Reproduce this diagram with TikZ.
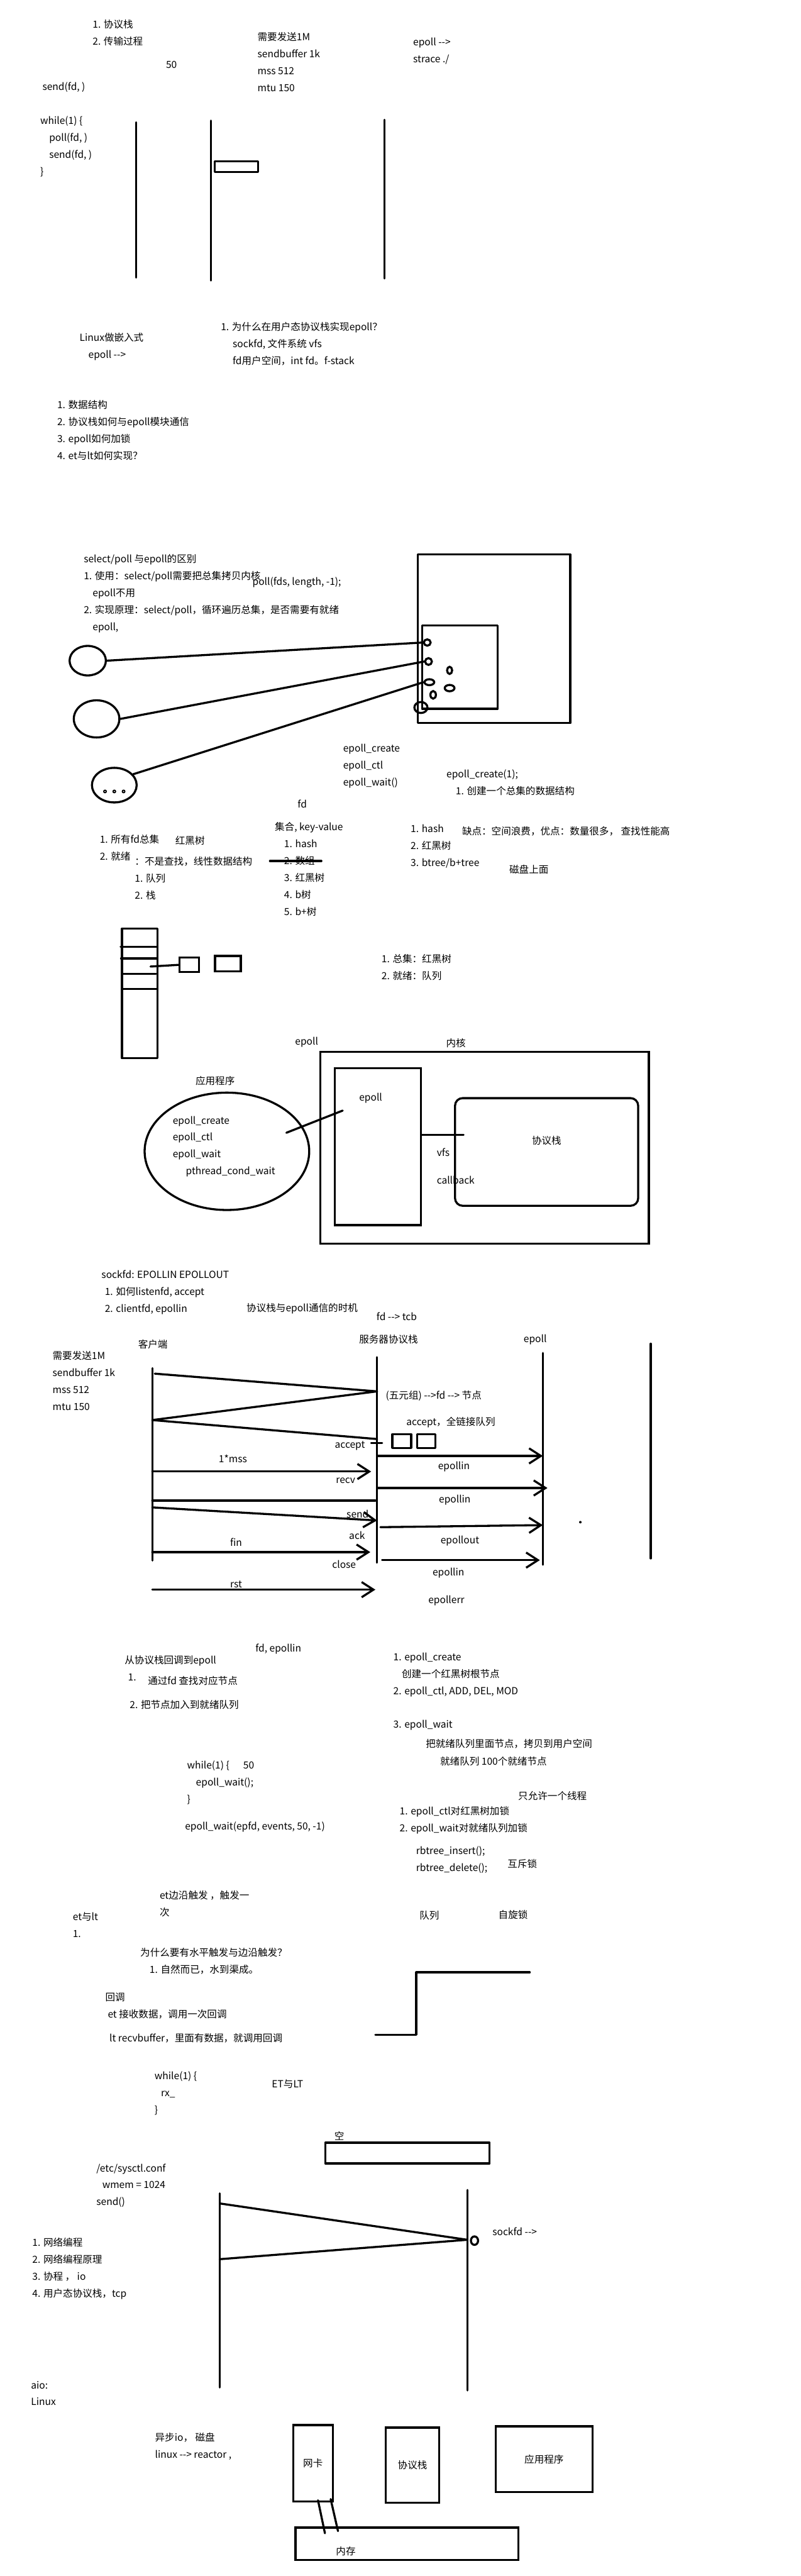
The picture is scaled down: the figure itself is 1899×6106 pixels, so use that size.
\documentclass[tikz,border=0pt]{standalone}
\usepackage{fontspec}
\setmainfont{Noto Sans CJK SC}
\usepackage{tikz}
\usetikzlibrary{positioning,calc,arrows.meta,shapes.geometric}
\newcommand{\dashto}{-\kern0pt-\kern0pt>}

\begin{document}
\begin{tikzpicture}[
	x=0.01cm, y=-0.01cm,
	txt/.style={font=\fontsize{6.6pt}{11.4pt}\selectfont, inner sep=0pt, align=left, anchor=west},
	thickline/.style={line width=1.4pt, line cap=round, line join=round},
	box/.style={draw, line width=1.4pt, inner sep=0pt, font=\fontsize{6.6pt}{11.4pt}\selectfont},
	ring/.style={draw, ellipse, line width=1.4pt, inner sep=0pt},
	msg/.style={thickline, -{Straight Barb[length=0.28cm, width=0.36cm]}}
	]
	\fill[white] (0,0) rectangle (1899,6106);
	\useasboundingbox (0,0) rectangle (1899,6106);

	% send buffer
	\node[txt] (proto) at (219,77) {1. 协议栈\\2. 传输过程};
	\node[txt] (fifty) at (393,153) {50};
	\node[txt] (need) at (610,147) {需要发送1M\\sendbuffer 1k\\mss 512\\mtu 150};
	\node[txt] (strace) at (979,121.5) {epoll \dashto\\strace ./};
	\node[txt] (sendfd) at (100,206) {send(fd, )};
	\node[txt] (loopa) at (95,347.5) {while(1) \{\\\hspace*{0.21cm}poll(fd, )\\\hspace*{0.21cm}send(fd, )\\\}};
	\draw[thickline] (323,290) -- (323,658) (500,286) -- (500,665) (912,284) -- (912,660);
	\draw[thickline] (509,382) rectangle (612,408);

	\node[txt] (embed) at (188,822) {Linux做嵌入式\\\hspace*{0.21cm}epoll \dashto};
	\node[txt] (why) at (523,815.5) {1. 为什么在用户态协议栈实现epoll？\\\hspace*{0.28cm}sockfd, 文件系统 vfs\\\hspace*{0.28cm}fd用户空间，int fd。f-stack};
	\node[txt] (topics) at (135,1019.5) {1. 数据结构\\2. 协议栈如何与epoll模块通信\\3. epoll如何加锁\\4. et与lt如何实现？};

	% select/poll
	\node[txt] (diff) at (198,1407) {select/poll 与epoll的区别\\1. 使用：select/poll需要把总集拷贝内核\\\hspace*{0.21cm}epoll不用\\2. 实现原理：select/poll，循环遍历总集，是否需要有就绪\\\hspace*{0.21cm}epoll,};
	\node[txt] (pollcall) at (598,1380) {poll(fds, length, -1);};
	\draw[thickline] (991,1314) rectangle (1352,1714);
	\draw[thickline] (1001,1483) rectangle (1180,1680);
	\node[ring, minimum width=0.16cm, minimum height=0.15cm] (s1) at (1013,1523) {};
	\node[ring, minimum width=0.16cm, minimum height=0.16cm] (s2) at (1016,1568) {};
	\node[ring, minimum width=0.23cm, minimum height=0.14cm] (s3) at (1018,1617) {};
	\node[ring, minimum width=0.31cm, minimum height=0.26cm] (s4) at (998,1677) {};
	\node[ring, minimum width=0.12cm, minimum height=0.17cm] (s5) at (1066,1589) {};
	\node[ring, minimum width=0.23cm, minimum height=0.15cm] (s6) at (1066,1631) {};
	\node[ring, minimum width=0.13cm, minimum height=0.18cm] (s7) at (1027,1647) {};
	\node[ring, minimum width=0.86cm, minimum height=0.70cm] (c1) at (208,1566) {};
	\node[ring, minimum width=1.08cm, minimum height=0.88cm] (c2) at (229,1704) {};
	\node[ring, minimum width=1.06cm, minimum height=0.82cm] (c3) at (271,1861) {};
	\draw[line width=0.8pt] (249,1876) circle[radius=0.03cm] (271,1876) circle[radius=0.03cm] (293,1876) circle[radius=0.03cm];
	\draw[thickline] (c1.east) -- (s1.west);
	\draw[thickline] (c2.east) -- (s2.west);
	\draw[thickline] (c3.30) -- (s3.west);

	\node[txt] (apis) at (813,1816) {epoll\_create\\epoll\_ctl\\epoll\_wait()};
	\node[txt] (fdlbl) at (705,1906) {fd};
	\node[txt] (create) at (1058,1855.5) {epoll\_create(1);\\\hspace*{0.22cm}1. 创建一个总集的数据结构};
	\node[txt] (kv) at (651,2060) {集合, key-value\\\hspace*{0.22cm}1. hash\\\hspace*{0.22cm}2. 数组\\\hspace*{0.22cm}3. 红黑树\\\hspace*{0.22cm}4. b树\\\hspace*{0.22cm}5. b+树};
	\draw[thickline] (640,2041) -- (762,2041);
	\node[txt] (impl) at (973,2006) {1. hash\\2. 红黑树\\3. btree/b+tree};
	\node[txt] (cons) at (1095,1971) {缺点：空间浪费，优点：数量很多， 查找性能高};
	\node[txt] (disk) at (1207,2061) {磁盘上面};

	% ready list
	\node[txt] (sets) at (236,2009.5) {1. 所有fd总集\\2. 就绪};
	\node[txt] (rbt) at (415,1993) {红黑树};
	\node[txt] (linear) at (319,2082) {：不是查找，线性数据结构\\1. 队列\\2. 栈};
	\draw[thickline] (289,2201) rectangle (373,2508);
	\draw[thickline] (286,2244) -- (373,2244) (287,2272) -- (373,2272) (290,2308) -- (370,2308) (290,2344) -- (373,2344);
	\coordinate (slot) at (357,2291);
	\node[box, minimum width=0.46cm, minimum height=0.34cm] (qb1) at (449,2287) {};
	\node[box, minimum width=0.61cm, minimum height=0.36cm] (qb2) at (540.5,2284) {};
	\draw[thickline] (slot) -- (qb1.west);
	\node[txt] (kinds) at (904,2292.5) {1. 总集：红黑树\\2. 就绪：队列};

	% kernel
	\node[txt] (eplbl) at (699,2470) {epoll};
	\node[txt] (kernlbl) at (1057,2472) {内核};
	\node[box, minimum width=7.78cm, minimum height=4.55cm] (kern) at (1149,2720.5) {};
	\node[box, minimum width=2.04cm, minimum height=3.72cm] (epbox) at (896,2718) {};
	\node[txt] (eptxt) at (851,2603) {epoll};
	\node[box, rounded corners=0.18cm, minimum width=4.34cm, minimum height=2.55cm] (stk) at (1296,2730.5) {};
	\node[txt, anchor=center] (stktxt) at (1296,2703) {协议栈};
	\coordinate (vfsend) at (1099,2690);
	\draw[thickline] (epbox.east |- vfsend) -- (vfsend);
	\node[txt] (vfs) at (1035,2732) {vfs};
	\node[txt] (cb) at (1035,2797) {callback};
	\node[ring, minimum width=3.9cm, minimum height=2.78cm] (app) at (538,2729) {};
	\node[txt] (applbl) at (463,2562) {应用程序};
	\node[txt] (appapi) at (409,2717.5) {epoll\_create\\epoll\_ctl\\epoll\_wait\\\hspace*{0.31cm}pthread\_cond\_wait};
	\draw[thickline] ($(app.center)+(141,-44)$) -- ($(epbox.north west)+(21,103)$);

	% tcp sequence
	\node[txt] (sockfd) at (240,3063) {sockfd:  EPOLLIN EPOLLOUT\\\hspace*{0.08cm}1. 如何listenfd,  accept\\\hspace*{0.08cm}2. clientfd, epollin};
	\node[txt] (timing) at (584,3101) {协议栈与epoll通信的时机};
	\node[txt] (fdtcb) at (892,3121) {fd \dashto\ tcb};
	\node[txt] (cli) at (327,3186) {客户端};
	\node[txt] (srv) at (851,3175) {服务器协议栈};
	\node[txt] (epl) at (1241,3175) {epoll};
	\node[txt] (need2) at (124,3273) {需要发送1M\\sendbuffer 1k\\mss 512\\mtu 150};
	\coordinate (cliT) at (361,3243);
	\coordinate (cliB) at (361,3699);
	\coordinate (srvT) at (894,3217);
	\coordinate (srvB) at (894,3704);
	\coordinate (eplT) at (1287,3207);
	\coordinate (eplB) at (1287,3709);
	\draw[thickline] (cliT) -- (cliB) (srvT) -- (srvB) (eplT) -- (eplB);
	\draw[thickline] (1543,3185) -- (1543,3694);
	\fill (1376,3608) circle[radius=0.03cm];
	\coordinate (m1a) at (367,3256);
	\coordinate (m1b) at (894,3298);
	\coordinate (m2b) at (361,3366);
	\coordinate (m3b) at (894,3411);
	\draw[thickline] (m1a) -- (m1b) -- (m2b) -- (m3b);
	\draw[thickline] (880,3420) -- (906,3420);
	\draw[thickline] (930,3400) rectangle (975,3432) (989,3400) rectangle (1032,3432);
	\node[txt] (tuple) at (914,3309) {(五元组) \dashto fd \dashto\ 节点};
	\node[txt] (acc) at (963,3371) {accept，全链接队列};
	\node[txt, anchor=east] (acc2) at (866,3427) {accept};
	\draw[msg] (srvT |- 0,3451) -- (eplT |- 0,3451);
	\node[txt] (ein1) at (1038,3476) {epollin};
	\node[txt] (mss) at (518,3458) {1*mss};
	\draw[msg, shorten >=0.14cm] (cliT |- 0,3488) -- (srvT |- 0,3488);
	\node[txt] (recv) at (796,3510) {recv};
	\draw[msg, shorten >=-0.11cm] (srvT |- 0,3527) -- (eplT |- 0,3527);
	\node[txt] (ein2) at (1040,3556) {epollin};
	\draw[thickline, shorten >=0.04cm] (cliT |- 0,3557) -- (srvT |- 0,3557);
	\draw[msg] (cliT |- 0,3573) -- (srvT |- 0,3604);
	\node[txt] (send) at (821,3588) {send};
	\node[txt] (ack) at (827,3639) {ack};
	\draw[msg, shorten <=0.08cm] (srvT |- 0,3620) -- (eplT |- 0,3615);
	\node[txt] (eout) at (1044,3653) {epollout};
	\node[txt] (fin) at (545,3656) {fin};
	\draw[msg, shorten >=0.16cm] (cliT |- 0,3679) -- (srvT |- 0,3679);
	\node[txt] (close) at (787,3708) {close};
	\draw[msg, shorten <=0.12cm, shorten >=0.07cm] (srvT |- 0,3698) -- (eplT |- 0,3698);
	\node[txt] (ein3) at (1025,3728) {epollin};
	\node[txt] (rst) at (545,3755) {rst};
	\draw[msg, shorten >=0.04cm] (cliT |- 0,3768) -- (srvT |- 0,3768);
	\node[txt] (eerr) at (1015,3794) {epollerr};

	% callback
	\node[txt] (fdep) at (605,3909) {fd, epollin};
	\node[txt] (cbk) at (295,3937) {从协议栈回调到epoll};
	\node[txt] (one) at (303,3976) {1.};
	\node[txt] (findnode) at (350,3984) {通过fd 查找对应节点};
	\node[txt] (addq) at (307,4040) {2. 把节点加入到就绪队列};
	\node[txt] (loopb) at (443,4225.5) {while(1) \{\\\hspace*{0.21cm}epoll\_wait();\\\}};
	\node[txt] (fifty2) at (576,4185) {50};
	\node[txt] (waitcall) at (438,4330) {epoll\_wait(epfd, events, 50, -1)};
	\node[txt] (etedge) at (378,4512) {et边沿触发 ，触发一\\次};
	\node[txt] (etlt) at (172,4562) {et与lt\\1.};
	\node[txt] (whyq) at (332,4628) {为什么要有水平触发与边沿触发？};
	\node[txt] (natural) at (354,4669) {1. 自然而已，水到渠成。};
	\node[txt] (steps) at (932,3969.5) {1. epoll\_create\\\hspace*{0.2cm}创建一个红黑树根节点\\2. epoll\_ctl,  ADD, DEL, MOD};
	\node[txt] (step3) at (932,4089) {3. epoll\_wait};
	\node[txt] (copy) at (1009,4134) {把就绪队列里面节点，拷贝到用户空间};
	\node[txt] (hundred) at (1043,4175) {就绪队列 100个就绪节点};
	\node[txt] (single) at (1228,4257) {只允许一个线程};
	\node[txt] (locks) at (947,4315) {1. epoll\_ctl对红黑树加锁\\2. epoll\_wait对就绪队列加锁};
	\node[txt] (rbops) at (986,4408) {rbtree\_insert();\\rbtree\_delete();};
	\node[txt] (mutex) at (1203,4418) {互斥锁};
	\node[txt] (queue) at (994,4540) {队列};
	\node[txt] (spin) at (1181,4539) {自旋锁};
	\draw[thickline] (890,4823) -- (987,4823) -- (987,4675) -- (1256,4675);

	% et / lt
	\node[txt] (cbhead) at (249,4734) {回调};
	\node[txt] (etcb) at (255,4775) {et 接收数据，调用一次回调};
	\node[txt] (ltcb) at (259,4831) {lt recvbuffer，里面有数据，就调用回调};
	\node[txt] (loopc) at (366,4961.5) {while(1) \{\\\hspace*{0.15cm}rx\_\\\}};
	\node[txt] (etltu) at (644,4939) {ET与LT};
	\node[txt] (empty) at (792,5063) {空};
	\draw[thickline] (771,5079) rectangle (1161,5128);
	\node[txt] (sysctl) at (228,5180.5) {/etc/sysctl.conf\\\hspace*{0.14cm}wmem = 1024\\send()};
	\coordinate (lT) at (521,5199);
	\coordinate (lB) at (521,5659);
	\coordinate (rT) at (1108,5191);
	\coordinate (rB) at (1108,5666);
	\draw[thickline] (lT) -- (lB) (rT) -- (rB);
	\coordinate (w1) at (522,5223);
	\coordinate (w2) at (1108,5309);
	\coordinate (w3) at (521,5355);
	\draw[thickline] (w1) -- (w2) -- (w3);
	\node[ring, minimum width=0.17cm, minimum height=0.2cm] (sk) at (1125,5311) {};
	\node[txt] (sockto) at (1167,5290) {sockfd \dashto};
	\node[txt] (course) at (76,5377.5) {1. 网络编程\\2. 网络编程原理\\3. 协程 ， io\\4. 用户态协议栈，tcp};

	% aio
	\node[txt] (aio) at (73,5673) {aio:\\Linux};
	\node[txt] (async) at (367,5798) {异步io， 磁盘\\linux \dashto\ reactor ,};
	\node[box, minimum width=0.94cm, minimum height=1.81cm] (nic) at (742,5838.5) {网卡};
	\node[box, minimum width=1.26cm, minimum height=1.78cm] (pst) at (978,5843) {协议栈};
	\node[box, minimum width=2.30cm, minimum height=1.56cm] (appb) at (1290,5829) {应用程序};
	\node[box, minimum width=5.28cm, minimum height=0.77cm] (mem) at (965,6029.5) {};
	\node[txt] (memtxt) at (796,6047) {内存};
	\draw[thickline] ($(nic.south)+(12,-5)$) -- ($(mem.north west)+(72,16)$);
	\draw[thickline] ($(nic.south)+(42,-8)$) -- ($(mem.north west)+(103,11)$);
\end{tikzpicture}
\end{document}
